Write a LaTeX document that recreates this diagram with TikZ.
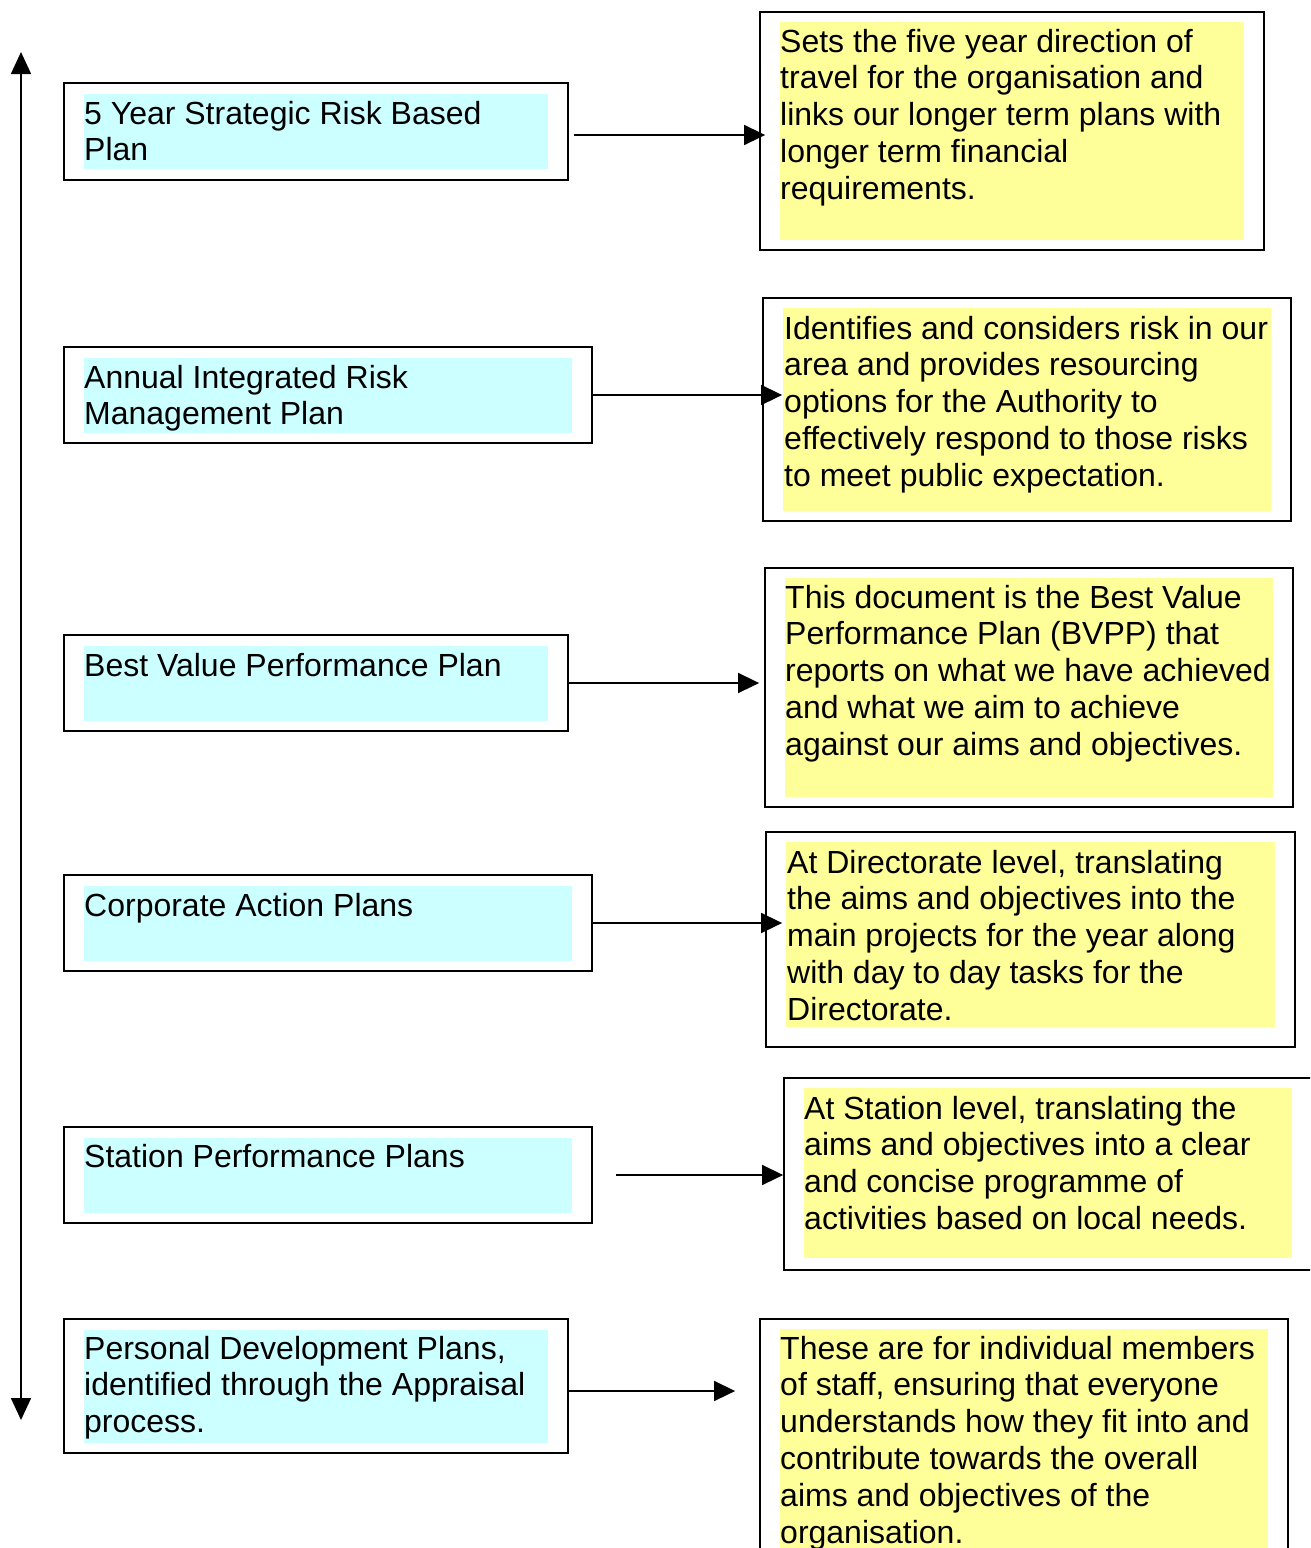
\documentclass[tikz,border=0pt]{standalone}
\usepackage{fontspec}
\setmainfont{Liberation Sans}
\usetikzlibrary{arrows.meta}
\definecolor{cyanfill}{HTML}{CCFFFF}
\definecolor{yelfill}{HTML}{FFFF99}
\begin{document}
\begin{tikzpicture}[x=1pt,y=-1pt,
  box/.style={draw=black, line width=1.8pt, rectangle, inner sep=0pt},
  txt/.style={anchor=base west, inner sep=0pt, align=left, font=\fontsize{32pt}{36.8pt}\selectfont},
  arr/.style={line width=1.6pt, -{Triangle[length=21pt,width=20pt]}},
  arrboth/.style={line width=1.6pt, {Triangle[length=22pt,width=20pt]}-{Triangle[length=22pt,width=20pt]}}
]
\useasboundingbox (0,0) rectangle (1310,1548);
\clip (0,0) rectangle (1310,1548);

% left vertical arrow
\coordinate (vtop) at (21,52);
\coordinate (vbot) at (21,1420);
\draw[arrboth] (vtop) -- (vbot);

% ---------- left boxes (text placed by the baseline of its last line) ----------
\node[box, minimum width=504pt, minimum height=97pt] (L1) at (316,131.5) {};
\fill[cyanfill] (84,94) rectangle (548,169);
\node[txt] (T1) at (84,160.8) {5 Year Strategic Risk Based\\Plan};

\node[box, minimum width=528pt, minimum height=96pt] (L2) at (328,395) {};
\fill[cyanfill] (84,358) rectangle (572,433);
\node[txt] (T2) at (84,424.8) {Annual Integrated Risk\\Management Plan};

\node[box, minimum width=504pt, minimum height=96pt] (L3) at (316,683) {};
\fill[cyanfill] (84,646) rectangle (548,721);
\node[txt] (T3) at (84,676) {Best Value Performance Plan};

\node[box, minimum width=528pt, minimum height=96pt] (L4) at (328,923) {};
\fill[cyanfill] (84,886) rectangle (572,961);
\node[txt] (T4) at (84,916) {Corporate Action Plans};

\node[box, minimum width=528pt, minimum height=96pt] (L5) at (328,1175) {};
\fill[cyanfill] (84,1138) rectangle (572,1213);
\node[txt] (T5) at (84,1167) {Station Performance Plans};

\node[box, minimum width=504pt, minimum height=134pt] (L6) at (316,1386) {};
\fill[cyanfill] (84,1330) rectangle (548,1443);
\node[txt] (T6) at (84,1432.6) {Personal Development Plans,\\identified through the Appraisal\\process.};

% ---------- right boxes ----------
\node[box, minimum width=504pt, minimum height=238pt] (R1) at (1012,131) {};
\fill[yelfill] (780,22) rectangle (1244,240);
\node[txt] (S1) at (780,199.2) {Sets the five year direction of\\travel for the organisation and\\links our longer term plans with\\longer term financial\\requirements.};

\node[box, minimum width=528pt, minimum height=223pt] (R2) at (1027,409.5) {};
\fill[yelfill] (783,308) rectangle (1271,511);
\node[txt] (S2) at (784,486.2) {Identifies and considers risk in our\\area and provides resourcing\\options for the Authority to\\effectively respond to those risks\\to meet public expectation.};

\node[box, minimum width=528pt, minimum height=239pt] (R3) at (1029,687.5) {};
\fill[yelfill] (785,578) rectangle (1273,797);
\node[txt] (S3) at (785,755.2) {This document is the Best Value\\Performance Plan (BVPP) that\\reports on what we have achieved\\and what we aim to achieve\\against our aims and objectives.};

\node[box, minimum width=529pt, minimum height=215pt] (R4) at (1030.5,939.5) {};
\fill[yelfill] (786,842) rectangle (1275,1027);
\node[txt] (S4) at (787,1020.2) {At Directorate level, translating\\the aims and objectives into the\\main projects for the year along\\with day to day tasks for the\\Directorate.};

\node[box, minimum width=531pt, minimum height=192pt] (R5) at (1049.5,1174) {};
\fill[yelfill] (804,1088) rectangle (1292,1258);
\node[txt] (S5) at (804,1229.4) {At Station level, translating the\\aims and objectives into a clear\\and concise programme of\\activities based on local needs.};

\node[box, minimum width=528pt, minimum height=241pt] (R6) at (1024,1439.5) {};
\fill[yelfill] (780,1329) rectangle (1268,1560);
\node[txt] (S6) at (780,1543) {These are for individual members\\of staff, ensuring that everyone\\understands how they fit into and\\contribute towards the overall\\aims and objectives of the\\organisation.};

% ---------- connectors ----------
\draw[arr] ([xshift=5pt,yshift=-3.5pt]L1.east) -- ([xshift=6pt,yshift=-4pt]R1.west);
\draw[arr] (L2.east) -- ([xshift=20pt,yshift=14.5pt]R2.west);
\draw[arr] (L3.east) -- ([xshift=-5pt,yshift=4.5pt]R3.west);
\draw[arr] (L4.east) -- ([xshift=17pt,yshift=16.5pt]R4.west);
\draw[arr] ([xshift=23pt]L5.east) -- ([yshift=-1pt]R5.west);
\draw[arr] ([yshift=-5pt]L6.east) -- ([xshift=-24pt,yshift=48.5pt]R6.west);
\end{tikzpicture}
\end{document}
